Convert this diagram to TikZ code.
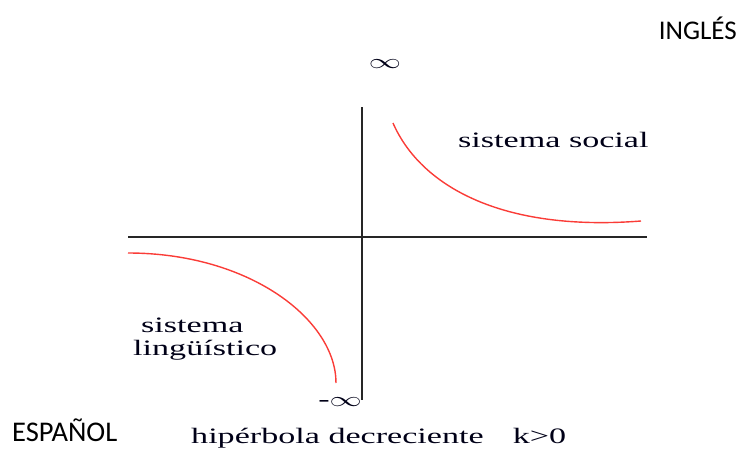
\documentclass[tikz,border=0pt]{standalone}
\usepackage{fontspec}
\setmainfont{Liberation Serif}
\newfontfamily\calib{Carlito}
\definecolor{curvered}{RGB}{250,60,55}
\tikzset{
  axis/.style={draw=black!85, line width=1.3pt},
  hyp/.style={draw=curvered, line width=1.4pt},
  serif/.style={inner sep=0pt, font=\fontsize{22}{26}\selectfont, text=black!85!blue!60!black},
  lang/.style={inner sep=0pt, font=\calib\fontsize{27}{32}\selectfont, text=black}
}
\newcommand{\widetxt}[1]{\scalebox{1.55}[1]{#1}}
\begin{document}
\begin{tikzpicture}[x=1pt,y=-1pt]
\useasboundingbox (0,0) rectangle (740,448);
\coordinate (xl) at (128,237);
\coordinate (xr) at (647,237);
\coordinate (yt) at (362,107);
\coordinate (yb) at (362,400);
\draw[axis] (xl) -- (xr);
\draw[axis] (yt) -- (yb);
\coordinate (ua) at (393,123);
\coordinate (ub) at (641,221);
\draw[hyp] (ua) .. controls (420,185) and (500,232) .. (ub);
\coordinate (la) at (128,253);
\coordinate (lb) at (336,383);
\draw[hyp] (la) .. controls (250,253) and (336,320) .. (lb);
\node[lang, anchor=base east] (ing) at (737,39) {INGLÉS};
\node[lang, anchor=base west, font=\calib\fontsize{28.5}{32}\selectfont] (esp) at (12,441) {ESPAÑOL};
\node[serif] (inf) at (385,64) {\widetxt{$\infty$}};
\node[serif] (minf) at (340,402) {\widetxt{-$\infty$}};
\node[serif, anchor=base west] (soc) at (458,147) {\widetxt{sistema social}};
\node[serif, anchor=base west] (sis) at (141,332) {\widetxt{sistema}};
\node[serif, anchor=base west] (lin) at (133,355) {\widetxt{lingüístico}};
\node[serif, anchor=base west] (hip) at (191,443) {\widetxt{hipérbola decreciente\hspace{0.85em}k>0}};
\end{tikzpicture}
\end{document}
